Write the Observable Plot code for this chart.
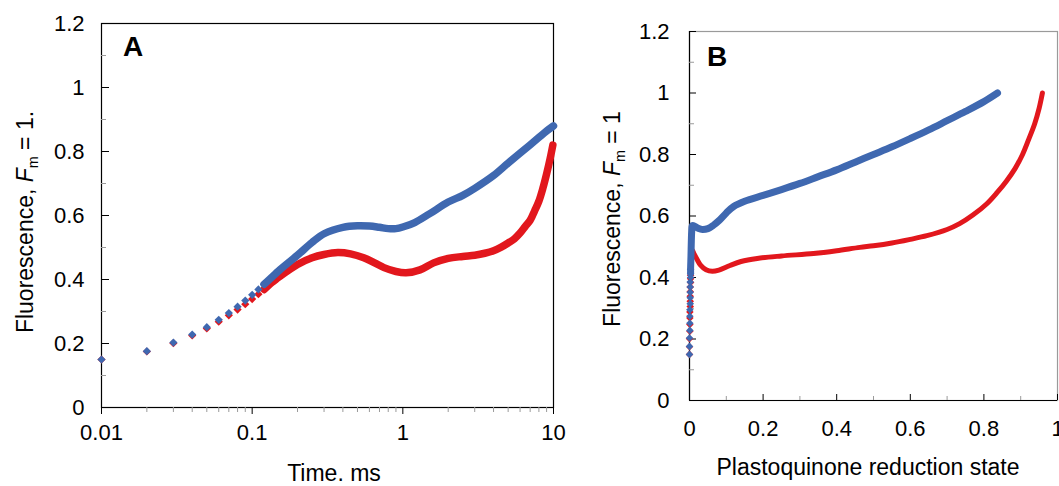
<!DOCTYPE html>
<html><head><meta charset="utf-8">
<script src="https://cdn.jsdelivr.net/npm/d3@7"></script>
<script src="https://cdn.jsdelivr.net/npm/@observablehq/plot@0.6"></script>
<style>
body{margin:0;background:#fff;font-family:"Liberation Sans",Arial,sans-serif;}
#wrap{position:relative;width:1059px;height:486px;overflow:hidden;background:#fff;}
.panel{position:absolute;top:0;}
.title{position:absolute;font-size:23px;line-height:1;white-space:nowrap;color:#000;}
.ytitle{transform:translate(-50%,-50%) rotate(-90deg);}
.xtitle{transform:translateX(-50%);}
.sub{font-size:0.62em;position:relative;top:0.32em;}
.letter{position:absolute;font-size:28px;line-height:1;font-weight:bold;color:#000;}
</style></head><body>
<div id="wrap">
  <div id="panelA" class="panel" style="left:0;width:580px;height:486px"></div>
  <div id="panelB" class="panel" style="left:580px;width:479px;height:486px"></div>
  <div class="title ytitle" style="left:25px;top:222px">Fluorescence, <i>F</i><span class="sub">m</span> = 1.</div>
  <div class="title xtitle" style="left:334px;top:462px">Time. ms</div>
  <div class="title ytitle" style="left:612px;top:219px">Fluorescence, <i>F</i><span class="sub">m</span> = 1</div>
  <div class="title xtitle" style="left:868px;top:456px">Plastoquinone reduction state</div>
  <div class="letter" style="left:123px;top:33px">A</div>
  <div class="letter" style="left:707px;top:43px">B</div>
</div>
<script>
// ---------- Panel A: fluorescence vs time (ms, log axis) ----------
const timeA_blue = [0.01,0.02,0.03,0.04,0.05,0.06,0.07,0.08,0.09,0.10,0.11,0.12,0.13,0.14,0.15,
  0.2,0.25,0.3,0.4,0.5,0.6,0.7,0.8,0.9,1.0,1.2,1.5,2.0,2.5,3.0,4.0,5.0,6.0,7.0,8.0,9.0,10];
const fluorA_blue = [0.150,0.176,0.203,0.228,0.251,0.274,0.295,0.315,0.334,0.352,0.369,0.385,0.400,0.414,0.427,
  0.476,0.516,0.543,0.563,0.568,0.567,0.563,0.559,0.559,0.564,0.578,0.605,0.642,0.663,0.685,0.725,0.764,0.795,0.821,0.844,0.864,0.880];
const timeA_red = [0.01,0.02,0.03,0.04,0.05,0.06,0.07,0.08,0.09,0.10,0.11,0.12,0.13,0.14,0.15,
  0.2,0.25,0.3,0.37,0.45,0.55,0.65,0.75,0.9,1.05,1.3,1.6,2.0,2.5,3.0,3.5,4.0,4.5,5.0,5.5,6.0,6.5,7.0,7.5,8.0,8.5,9.0,9.5,9.9];
const fluorA_red = [0.150,0.175,0.201,0.225,0.247,0.268,0.288,0.306,0.323,0.339,0.354,0.369,0.384,0.396,0.407,
  0.447,0.468,0.478,0.484,0.480,0.468,0.452,0.437,0.425,0.421,0.430,0.452,0.466,0.472,0.476,0.482,0.490,0.501,0.514,0.527,0.545,0.566,0.585,0.615,0.645,0.685,0.730,0.778,0.820];

// ---------- Panel B: fluorescence vs plastoquinone reduction state ----------
const pqB_blue = [0.000,0.000,0.000,0.001,0.001,0.001,0.001,0.002,0.002,0.002,0.002,0.002,0.003,0.003,0.003,
  0.004,0.005,0.006,0.008,0.015,0.025,0.035,0.05,0.065,0.08,0.1,0.12,0.15,0.2,0.25,0.3,0.35,0.4,0.45,0.5,0.55,0.6,0.65,0.7,0.75,0.8,0.837];
const fluorB_blue = [0.150,0.176,0.203,0.228,0.251,0.274,0.295,0.315,0.334,0.352,0.369,0.385,0.400,0.414,0.427,
  0.470,0.520,0.550,0.569,0.566,0.559,0.556,0.559,0.570,0.585,0.610,0.631,0.648,0.667,0.686,0.706,0.728,0.750,0.775,0.800,0.825,0.852,0.880,0.910,0.940,0.972,1.000];
const pqB_red = [0.000,0.000,0.000,0.001,0.001,0.001,0.001,0.002,0.002,0.002,0.002,0.002,0.003,0.003,0.003,
  0.004,0.005,0.008,0.012,0.02,0.03,0.045,0.062,0.08,0.11,0.14,0.184,0.25,0.337,0.4,0.463,0.5,0.55,0.6,0.645,0.7,0.734,0.77,0.808,0.835,0.862,0.885,0.905,0.922,0.938,0.95,0.959];
const fluorB_red = [0.150,0.175,0.201,0.225,0.247,0.268,0.288,0.306,0.323,0.339,0.354,0.369,0.384,0.396,0.407,
  0.450,0.490,0.488,0.478,0.460,0.440,0.425,0.420,0.424,0.439,0.452,0.462,0.470,0.478,0.487,0.498,0.503,0.512,0.524,0.536,0.556,0.575,0.603,0.640,0.675,0.715,0.755,0.800,0.850,0.900,0.950,1.000];

// ---------- Tick values and labels ----------
const yTicks = [0,0.2,0.4,0.6,0.8,1.0,1.2];
const yTickLabels = ["0","0.2","0.4","0.6","0.8","1","1.2"];
const yMinorTicks = [0.1,0.3,0.5,0.7,0.9,1.1];
const xTicksA = [0.01,0.1,1,10];
const xTickLabelsA = ["0.01","0.1","1","10"];
const xMinorTicksA = [0.02,0.03,0.04,0.05,0.06,0.07,0.08,0.09,0.2,0.3,0.4,0.5,0.6,0.7,0.8,0.9,2,3,4,5,6,7,8,9];
const xTicksB = [0,0.2,0.4,0.6,0.8,1.0];
const xTickLabelsB = ["0","0.2","0.4","0.6","0.8","1"];
const xMinorTicksB = [0.1,0.3,0.5,0.7,0.9];

const BLUE = "#3F68B0", RED = "#E2171D";
const style = {fontFamily:"'Liberation Sans', Arial, sans-serif", fontSize:"22px", color:"#000", background:"transparent", overflow:"visible"};
const lab = (ticks, labels) => d => labels[ticks.findIndex(t => Math.abs(t - d) < 1e-9)];

const rows = (xs, ys) => xs.map((x, i) => ({x, y: ys[i]}));
const A_blue = rows(timeA_blue, fluorA_blue), A_red = rows(timeA_red, fluorA_red);
const B_blue = rows(pqB_blue, fluorB_blue), B_red = rows(pqB_red, fluorB_red);

const plotA = Plot.plot({
  width: 580, height: 486,
  marginLeft: 101, marginRight: 27, marginTop: 23, marginBottom: 79,
  x: {type: "log", domain: [0.01, 10], axis: null},
  y: {domain: [0, 1.2], axis: null},
  style,
  marks: [
    Plot.frame({stroke: "#000", strokeWidth: 1.2}),
    Plot.axisY(yMinorTicks, {tickSize: -5, stroke: "#9a9a9a", fill: "none", label: null}),
    Plot.axisY(yTicks, {tickSize: -8, stroke: "#000", fill: "none", label: null}),
    Plot.axisY(yTicks, {tickSize: 0, tickPadding: 17, tickFormat: lab(yTicks, yTickLabels), label: null}),
    Plot.axisX(xMinorTicksA, {tickSize: 5, stroke: "#9a9a9a", fill: "none", label: null}),
    Plot.axisX(xTicksA, {tickSize: 7, stroke: "#000", fill: "none", label: null}),
    Plot.axisX(xTicksA, {tickSize: 0, tickPadding: 17, tickFormat: lab(xTicksA, xTickLabelsA), label: null}),
    Plot.line(A_red.filter(d => d.x >= 0.12), {x: "x", y: "y", stroke: RED, strokeWidth: 7.5, curve: "catmull-rom"}),
    Plot.dot(A_red.filter(d => d.x <= 0.15), {x: "x", y: "y", symbol: "diamond2", r: 3.7, fill: RED}),
    Plot.line(A_blue.filter(d => d.x >= 0.12), {x: "x", y: "y", stroke: BLUE, strokeWidth: 7.5, curve: "catmull-rom"}),
    Plot.dot(A_blue.filter(d => d.x <= 0.15), {x: "x", y: "y", symbol: "diamond2", r: 3.7, fill: BLUE})
  ]
});
document.getElementById("panelA").append(plotA);

const plotB = Plot.plot({
  width: 479, height: 486,
  marginLeft: 109, marginRight: 2, marginTop: 31, marginBottom: 86,
  x: {domain: [0, 1], axis: null},
  y: {domain: [0, 1.2], axis: null},
  style,
  marks: [
    Plot.frame({stroke: "#9a9a9a", strokeWidth: 1.2}),
    Plot.ruleX([0], {stroke: "#000", strokeWidth: 1.2}),
    Plot.ruleY([0], {stroke: "#000", strokeWidth: 1.2}),
    Plot.axisY(yMinorTicks, {tickSize: -5, stroke: "#9a9a9a", fill: "none", label: null}),
    Plot.axisY(yTicks, {tickSize: -7, stroke: "#000", fill: "none", label: null}),
    Plot.axisY(yTicks, {tickSize: 0, tickPadding: 20, tickFormat: lab(yTicks, yTickLabels), label: null}),
    Plot.axisX(xMinorTicksB, {tickSize: -4, stroke: "#9a9a9a", fill: "none", label: null}),
    Plot.axisX(xTicksB, {tickSize: -6, stroke: "#000", fill: "none", label: null}),
    Plot.axisX(xTicksB, {tickSize: 0, tickPadding: 20, tickFormat: lab(xTicksB, xTickLabelsB), label: null}),
    Plot.line(B_red.slice(13), {x: "x", y: "y", stroke: RED, strokeWidth: 5, curve: "catmull-rom"}),
    Plot.dot(B_red.slice(0, 15), {x: "x", y: "y", symbol: "diamond2", r: 3.4, fill: RED}),
    Plot.line(B_blue.slice(13), {x: "x", y: "y", stroke: BLUE, strokeWidth: 7, curve: "catmull-rom"}),
    Plot.dot(B_blue.slice(0, 15), {x: "x", y: "y", symbol: "diamond2", r: 3.4, fill: BLUE})
  ]
});
document.getElementById("panelB").append(plotB);
</script>
</body></html>
